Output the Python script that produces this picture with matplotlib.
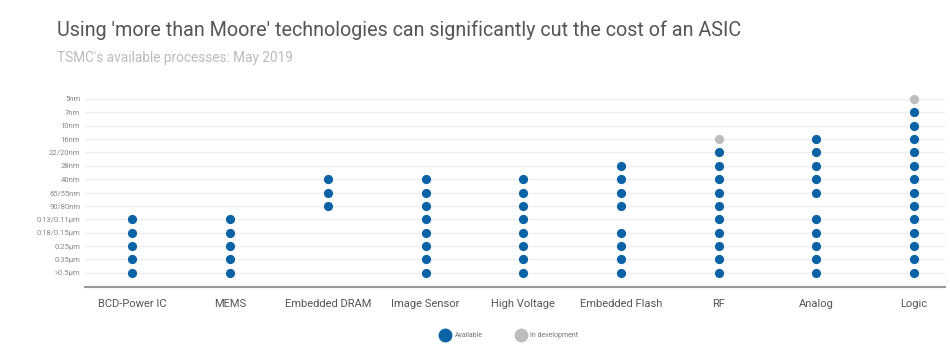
import matplotlib.pyplot as plt
from matplotlib.lines import Line2D

plt.rcParams['font.family'] = ['Roboto', 'DejaVu Sans']

# process nodes, bottom to top
nodes = ['>0.5µm', '0.35µm', '0.25µm', '0.18/0.15µm', '0.13/0.11µm', '90/80nm',
         '65/55nm', '40nm', '28nm', '22/20nm', '16nm', '10nm', '7nm', '5nm']
categories = ['BCD-Power IC', 'MEMS', 'Embedded DRAM', 'Image Sensor', 'High Voltage',
              'Embedded Flash', 'RF', 'Analog', 'Logic']

# node indices available per category
available = [
    [0, 1, 2, 3, 4],
    [0, 1, 2, 3, 4],
    [5, 6, 7],
    [0, 1, 2, 3, 4, 5, 6, 7],
    [0, 1, 2, 3, 4, 5, 6, 7],
    [0, 1, 2, 3, 5, 6, 7, 8],
    [0, 1, 2, 3, 4, 5, 6, 7, 8, 9],
    [0, 1, 2, 3, 4, 6, 7, 8, 9, 10],
    [0, 1, 2, 3, 4, 5, 6, 7, 8, 9, 10, 11, 12],
]
# node indices in development per category
in_dev = [[], [], [], [], [], [], [10], [], [13]]

blue = '#0b63a6'
grey = '#bdbdbd'

fig = plt.figure(figsize=(9.5, 3.6), dpi=100)
ax = fig.add_axes([0.089, 0.203, 0.906, 0.541])

for i, cat in enumerate(categories):
    ax.scatter([i] * len(available[i]), available[i], s=44, color=blue, zorder=3, linewidths=0)
    if in_dev[i]:
        ax.scatter([i] * len(in_dev[i]), in_dev[i], s=44, color=grey, zorder=3, linewidths=0)

ax.set_yticks(range(len(nodes)))
ax.set_yticklabels(nodes, fontsize=5.5, color='#888888')
ax.set_xticks(range(len(categories)))
ax.set_xticklabels(categories, fontsize=8, color='#555555')
ax.set_xlim(-0.49, 8.32)
ax.set_ylim(-1.05, 13.5)
ax.grid(axis='y', color='#eeeeee', linewidth=1)
ax.set_axisbelow(True)
ax.tick_params(axis='both', length=0)
ax.tick_params(axis='x', pad=9)
ax.tick_params(axis='y', pad=3)
for s in ['top', 'right', 'left']:
    ax.spines[s].set_visible(False)
ax.spines['bottom'].set_color('#999999')
ax.spines['bottom'].set_linewidth(1.5)

fig.text(0.06, 0.915, "Using 'more than Moore' technologies can significantly cut the cost of an ASIC",
         fontsize=14.2, color='#555555', va='center')
fig.text(0.06, 0.84, "TSMC's available processes: May 2019", fontsize=9.8, color='#bbbbbb', va='center')

handles = [Line2D([], [], marker='o', linestyle='', color=blue, markersize=9),
           Line2D([], [], marker='o', linestyle='', color=grey, markersize=9)]
fig.legend(handles, ['Available', 'In development'], loc='center', bbox_to_anchor=(0.535, 0.067),
           ncol=2, frameon=False, fontsize=5, labelcolor='#777777', handletextpad=0.4, columnspacing=4.5)

fig.savefig('out.png', dpi=100)
